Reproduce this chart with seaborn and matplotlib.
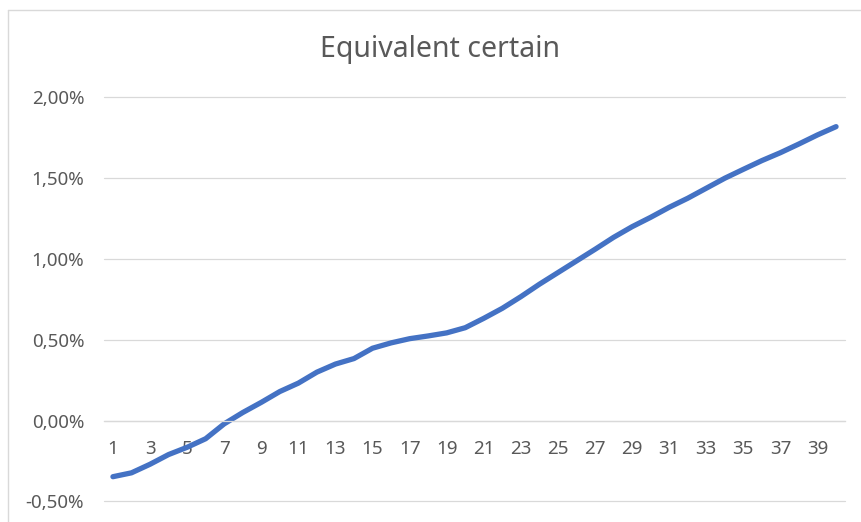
import numpy as np
import pandas as pd
import matplotlib
matplotlib.use('Agg')
import matplotlib.pyplot as plt
import seaborn as sns
from matplotlib.lines import Line2D
from matplotlib.ticker import FuncFormatter

# values (in %)
periods = list(range(1, 41))
equiv_certain = [
    -0.347, -0.323, -0.270, -0.210, -0.165, -0.112, -0.020, 0.050, 0.113, 0.180,
    0.232, 0.300, 0.350, 0.384, 0.448, 0.481, 0.507, 0.524, 0.543, 0.575,
    0.633, 0.695, 0.767, 0.844, 0.916, 0.988, 1.060, 1.134, 1.200, 1.258,
    1.320, 1.376, 1.438, 1.500, 1.555, 1.609, 1.658, 1.712, 1.768, 1.819,
]
y_ticks = [-0.5, 0.0, 0.5, 1.0, 1.5, 2.0]
x_ticks = periods[::2]

df = pd.DataFrame({'period': periods, 'value': equiv_certain})

sns.set_theme(style='white')
plt.rcParams['font.family'] = ['Noto Sans', 'DejaVu Sans']

text_grey = '#595959'
grid_grey = '#d9d9d9'

fig = plt.figure(figsize=(8.61, 5.22), dpi=100)
ax = fig.add_axes([0.1204, 0.0394, 0.8614, 0.774])

sns.lineplot(data=df, x='period', y='value', ax=ax, color='#4472C4',
             linewidth=3.8, solid_capstyle='round', solid_joinstyle='round')

ax.set_xlim(0.5, 40.5)
ax.set_ylim(-0.5, 2.0)
ax.set_yticks(y_ticks)
ax.set_xticks(x_ticks)
ax.yaxis.set_major_formatter(FuncFormatter(lambda v, p: f'{v:.2f}%'.replace('.', ',')))
ax.grid(axis='y', color=grid_grey, linewidth=0.9)
for gl in ax.yaxis.get_gridlines():
    gl.set_clip_on(False)
ax.set_axisbelow(True)

for side in ['top', 'right', 'left']:
    ax.spines[side].set_visible(False)
ax.spines['bottom'].set_position(('data', 0))
ax.spines['bottom'].set_color(grid_grey)
ax.spines['bottom'].set_linewidth(0.9)

ax.tick_params(axis='y', length=0, pad=14, labelsize=13.5, labelcolor=text_grey)
ax.tick_params(axis='x', length=0, pad=14, labelsize=13.5, labelcolor=text_grey)
ax.set_xlabel('')
ax.set_ylabel('')

fig.text(0.511, 1 - 56.5 / 522, 'Equivalent certain', ha='center', va='baseline',
         fontsize=20.5, color=text_grey)

# chart border (left and top edges visible in the crop)
fig.add_artist(Line2D([8 / 861, 8 / 861], [0, 1 - 10 / 522], transform=fig.transFigure,
                      color=grid_grey, linewidth=1))
fig.add_artist(Line2D([8 / 861, 1], [1 - 10 / 522, 1 - 10 / 522], transform=fig.transFigure,
                      color=grid_grey, linewidth=1))

fig.savefig('out.png', dpi=100, facecolor='white')
